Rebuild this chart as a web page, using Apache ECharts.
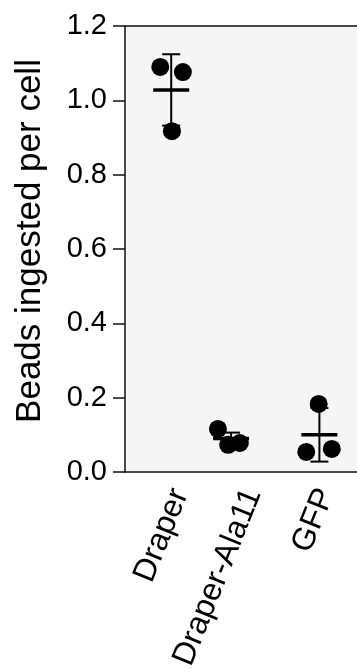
<!DOCTYPE html>
<html>
<head>
<meta charset="utf-8">
<script src="https://cdn.jsdelivr.net/npm/echarts@6/dist/echarts.min.js"></script>
<style>
html,body{margin:0;padding:0;background:#fff;}
#chart{width:357px;height:669px;}
</style>
</head>
<body>
<div id="chart"></div>
<script>
// Categories and tick labels
const categories = ['Draper', 'Draper-Ala11', 'GFP'];
const yTicks = [0, 0.2, 0.4, 0.6, 0.8, 1.0, 1.2];

// Individual replicate values (beads ingested per cell)
const draperValues = [1.090, 1.076, 0.917];
const ala11Values = [0.116, 0.073, 0.078];
const gfpValues = [0.183, 0.054, 0.062];

// Horizontal jitter of each dot (in category units)
const draperJitter = [-0.27, 0.04, -0.11];
const ala11Jitter = [-0.48, -0.34, -0.18];
const gfpJitter = [-0.10, -0.27, 0.08];

// Group summary (mean, SD)
const means = [1.028, 0.090, 0.100];
const sds = [0.096, 0.016, 0.072];
const summaryOffset = [-0.12, -0.30, -0.09];

const allValues = [draperValues, ala11Values, gfpValues];
const allJitter = [draperJitter, ala11Jitter, gfpJitter];

const dots = [];
allValues.forEach((vals, i) => {
  vals.forEach((v, j) => dots.push([i + allJitter[i][j], v]));
});
const summary = means.map((m, i) => [i + summaryOffset[i], m, sds[i]]);

const font = '"Liberation Sans", Arial, Helvetica, sans-serif';
const chart = echarts.init(document.getElementById('chart'), null, {renderer: 'canvas'});
const xMin = -0.753, xMax = 2.425;

chart.setOption({
  animation: false,
  grid: {
    left: 125, right: 0, top: 26, bottom: 197,
    outerBoundsMode: 'none',
    containLabel: false,
    show: true, backgroundColor: '#f5f5f5', borderWidth: 0
  },
  xAxis: [{
    type: 'value',
    min: xMin, max: xMax,
    splitLine: {show: false},
    axisLine: {show: true, onZero: false, lineStyle: {color: '#111', width: 1.5}},
    axisTick: {show: false},
    axisLabel: {
      customValues: [0, 1, 2],
      formatter: v => categories[Math.round(v)],
      rotate: 68,
      margin: 18,
      fontSize: 32,
      fontFamily: font,
      color: '#000'
    }
  }, {
    type: 'value',
    position: 'top',
    min: xMin, max: xMax,
    splitLine: {show: false},
    axisLine: {show: true, onZero: false, lineStyle: {color: '#111', width: 1.5}},
    axisTick: {show: false},
    axisLabel: {show: false}
  }],
  yAxis: {
    type: 'value',
    min: 0, max: 1.2, interval: 0.2,
    name: 'Beads ingested per cell',
    nameLocation: 'middle',
    nameGap: 77,
    nameTextStyle: {fontSize: 35, fontFamily: font, color: '#000', padding: [0, 0, 0, 16]},
    splitLine: {show: false},
    axisLine: {show: true, onZero: false, lineStyle: {color: '#111', width: 1.5}},
    axisTick: {show: true, length: 12, lineStyle: {color: '#111', width: 1.5}},
    axisLabel: {
      customValues: yTicks,
      formatter: v => v.toFixed(1),
      fontSize: 29,
      margin: 18,
      fontFamily: font,
      color: '#000'
    }
  },
  series: [{
    type: 'custom',
    z: 2,
    data: summary,
    renderItem: function (params, api) {
      const x = api.value(0), m = api.value(1), s = api.value(2);
      const c = api.coord([x, m]);
      const top = api.coord([x, m + s]);
      const bot = api.coord([x, m - s]);
      const style = {stroke: '#000', lineWidth: 2, fill: null};
      return {
        type: 'group',
        children: [
          {type: 'line', shape: {x1: c[0], y1: top[1], x2: c[0], y2: bot[1]}, style: style},
          {type: 'line', shape: {x1: c[0] - 9, y1: top[1], x2: c[0] + 9, y2: top[1]}, style: style},
          {type: 'line', shape: {x1: c[0] - 9, y1: bot[1], x2: c[0] + 9, y2: bot[1]}, style: style},
          {type: 'line', shape: {x1: c[0] - 18, y1: c[1], x2: c[0] + 18, y2: c[1]}, style: {stroke: '#000', lineWidth: 3.5}}
        ]
      };
    }
  }, {
    type: 'scatter',
    z: 3,
    data: dots,
    symbol: 'circle',
    symbolSize: 18,
    itemStyle: {color: '#000', opacity: 1}
  }]
});
</script>
</body>
</html>
